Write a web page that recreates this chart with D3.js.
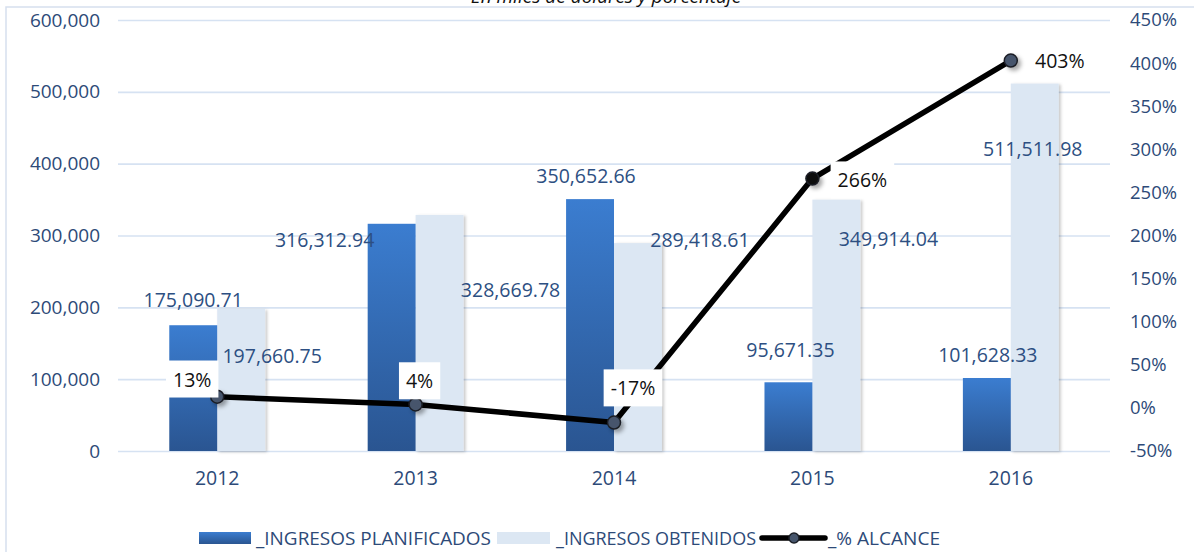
<!DOCTYPE html>
<html>
<head>
<meta charset="utf-8">
<script src="https://cdn.jsdelivr.net/npm/d3@7"></script>
<style>
  body { margin: 0; background: #fff; }
  svg { display: block; }
  text { font-family: "Open Sans", "Noto Sans", sans-serif; }
</style>
</head>
<body>
<svg id="chart" width="1194" height="552"></svg>
<script>
// data
const years = ['2012', '2013', '2014', '2015', '2016'];
const planificados = [175090.71, 316312.94, 350652.66, 95671.35, 101628.33];
const obtenidos = [197660.75, 328669.78, 289418.61, 349914.04, 511511.98];
const alcance = [13, 4, -17, 266, 403];
const leftTicks = [0, 100000, 200000, 300000, 400000, 500000, 600000];
const rightTicks = [-50, 0, 50, 100, 150, 200, 250, 300, 350, 400, 450];
const seriesNames = ['_INGRESOS PLANIFICADOS', '_INGRESOS OBTENIDOS', '_% ALCANCE'];

// label nudges (px) — labels were moved by hand in the original
const planLabelOff = [[0, -25], [-67, 16], [-4, -23], [2, -32], [1, -23]];
const obtLabelOff = [[31, 47], [71, 75], [62, -3], [52, 40], [-2, 66]];
const pctLabelOff = [[-25, -17], [4, -23], [19, -34], [50, 2], [49, 1]];

const svg = d3.select('#chart');
const plotLeft = 118, plotRight = 1110, plotTop = 20, plotBottom = 451;

const defs = svg.append('defs');
const grad = defs.append('linearGradient')
    .attr('id', 'darkGrad').attr('x1', 0).attr('y1', 0).attr('x2', 0).attr('y2', 1);
grad.append('stop').attr('offset', '0%').attr('stop-color', '#3b7dd0');
grad.append('stop').attr('offset', '100%').attr('stop-color', '#2a5591');

const shadow = defs.append('filter').attr('id', 'shadow')
    .attr('x', '-30%').attr('y', '-30%').attr('width', '160%').attr('height', '160%');
shadow.append('feDropShadow').attr('dx', 2).attr('dy', 1).attr('stdDeviation', 1.5)
    .attr('flood-color', '#000').attr('flood-opacity', 0.22);

const mshadow = defs.append('filter').attr('id', 'mshadow')
    .attr('x', '-100%').attr('y', '-100%').attr('width', '300%').attr('height', '300%');
mshadow.append('feDropShadow').attr('dx', 3).attr('dy', 3).attr('stdDeviation', 2)
    .attr('flood-color', '#000').attr('flood-opacity', 0.35);

// outer border
svg.append('path')
    .attr('d', 'M6,552 L6,7 L1194,7')
    .attr('fill', 'none').attr('stroke', '#d6e0ee').attr('stroke-width', 1.5);

// title (cut off at top, as in the original)
svg.append('text')
    .attr('x', 606).attr('y', 3)
    .attr('text-anchor', 'middle')
    .style('font-style', 'italic').style('font-size', '19px')
    .attr('fill', '#111')
    .text('En miles de dólares y porcentaje');

// scales
const x = d3.scaleBand().domain(years).range([plotLeft, plotRight]).padding(0);
const x1 = d3.scaleBand().domain(['plan', 'obt']).range([0, x.bandwidth()])
    .paddingInner(0).paddingOuter(1.07);
const yL = d3.scaleLinear().domain([0, 600000]).range([plotBottom, plotTop]);
const yR = d3.scaleLinear().domain([-50, 450]).range([plotBottom, plotTop]);

// gridlines
svg.append('g')
    .attr('transform', `translate(${plotLeft},0)`)
    .call(d3.axisLeft(yL).tickValues(leftTicks).tickSize(-(plotRight - plotLeft)).tickFormat(''))
    .call(g => g.select('.domain').remove())
    .call(g => g.selectAll('line').attr('stroke', '#d6e2f2').attr('stroke-width', 1.6));

// left axis labels
svg.append('g')
    .attr('transform', `translate(${plotLeft},0)`)
    .call(d3.axisLeft(yL).tickValues(leftTicks).tickSize(0).tickPadding(18)
        .tickFormat(d3.format(',')))
    .call(g => g.select('.domain').remove())
    .call(g => g.selectAll('text').attr('fill', '#2d4a78')
        .style('font-size', '19px').style('font-family', '"Open Sans", sans-serif'));

// right axis labels
svg.append('g')
    .attr('transform', `translate(${plotRight},0)`)
    .call(d3.axisRight(yR).tickValues(rightTicks).tickSize(0).tickPadding(20)
        .tickFormat(d => d + '%'))
    .call(g => g.select('.domain').remove())
    .call(g => g.selectAll('text').attr('fill', '#2d4a78')
        .style('font-size', '18.5px').style('font-family', '"Open Sans", sans-serif'));

// category axis
svg.append('g')
    .attr('transform', `translate(0,${plotBottom})`)
    .call(d3.axisBottom(x).tickSize(0).tickPadding(20))
    .call(g => g.select('.domain').remove())
    .call(g => g.selectAll('text').attr('fill', '#2d4a78')
        .style('font-size', '19.5px').style('font-family', '"Open Sans", sans-serif'));

// bars
const groups = svg.append('g').selectAll('g')
    .data(years)
    .enter()
    .append('g')
    .attr('transform', d => `translate(${x(d)},0)`);

groups.append('rect')
    .attr('x', x1('obt'))
    .attr('width', x1.bandwidth())
    .attr('y', (d, i) => yL(obtenidos[i]))
    .attr('height', (d, i) => yL(0) - yL(obtenidos[i]))
    .attr('fill', '#dce7f3')
    .attr('filter', 'url(#shadow)');

groups.append('rect')
    .attr('x', x1('plan'))
    .attr('width', x1.bandwidth())
    .attr('y', (d, i) => yL(planificados[i]))
    .attr('height', (d, i) => yL(0) - yL(planificados[i]))
    .attr('fill', 'url(#darkGrad)');

// bar value labels
const fmt = d3.format(',.2f');
const valLabels = svg.append('g')
    .style('font-size', '19.5px').attr('fill', '#2d4f82').attr('text-anchor', 'middle');

valLabels.selectAll('.plan')
    .data(years)
    .enter()
    .append('text')
    .attr('class', 'plan')
    .attr('x', (d, i) => x(d) + x1('plan') + x1.bandwidth() / 2 + planLabelOff[i][0])
    .attr('y', (d, i) => yL(planificados[i]) + planLabelOff[i][1])
    .attr('dy', '0.35em')
    .text((d, i) => fmt(planificados[i]));

valLabels.selectAll('.obt')
    .data(years)
    .enter()
    .append('text')
    .attr('class', 'obt')
    .attr('x', (d, i) => x(d) + x1('obt') + x1.bandwidth() / 2 + obtLabelOff[i][0])
    .attr('y', (d, i) => yL(obtenidos[i]) + obtLabelOff[i][1])
    .attr('dy', '0.35em')
    .text((d, i) => fmt(obtenidos[i]));

// line
const cx = d => x(d) + x.bandwidth() / 2;
const line = d3.line()
    .x((d, i) => cx(years[i]))
    .y(d => yR(d));

svg.append('path')
    .datum(alcance)
    .attr('d', line)
    .attr('fill', 'none')
    .attr('stroke', '#000')
    .attr('stroke-width', 5.5)
    .attr('stroke-linejoin', 'round');

svg.append('g').selectAll('circle')
    .data(alcance)
    .enter()
    .append('circle')
    .attr('cx', (d, i) => cx(years[i]))
    .attr('cy', d => yR(d))
    .attr('r', 6.5)
    .attr('fill', (d, i) => i === 3 ? '#111' : '#46556c')
    .attr('stroke', '#1b1f26')
    .attr('stroke-width', 1.5)
    .attr('filter', 'url(#mshadow)');

// percent labels with white boxes
const pctG = svg.append('g').selectAll('g')
    .data(alcance)
    .enter()
    .append('g')
    .attr('transform', (d, i) =>
        `translate(${cx(years[i]) + pctLabelOff[i][0]},${yR(d) + pctLabelOff[i][1]})`);

pctG.append('rect').attr('fill', '#fff');
pctG.append('text')
    .attr('text-anchor', 'middle')
    .attr('dy', '0.35em')
    .style('font-size', '19.5px')
    .attr('fill', '#111')
    .text(d => d + '%');
pctG.each(function () {
    const g = d3.select(this);
    const b = g.select('text').node().getBBox();
    g.select('rect')
        .attr('x', b.x - 7).attr('y', b.y - 5)
        .attr('width', b.width + 14).attr('height', b.height + 10);
});

// legend
const legend = svg.append('g');
const legendText = (xPos, str, w) => legend.append('text')
    .attr('x', xPos).attr('y', 545)
    .attr('textLength', w).attr('lengthAdjust', 'spacingAndGlyphs')
    .style('font-family', '"Liberation Sans Narrow", "Open Sans", sans-serif')
    .style('font-size', '18px')
    .attr('fill', '#2d4a78')
    .text(str);

legend.append('rect').attr('x', 199).attr('y', 532).attr('width', 52).attr('height', 12)
    .attr('fill', 'url(#darkGrad)');
legendText(256, seriesNames[0], 235);
legend.append('rect').attr('x', 497).attr('y', 532).attr('width', 53).attr('height', 12)
    .attr('fill', '#dce7f3');
legendText(556, seriesNames[1], 200);
legend.append('line').attr('x1', 762).attr('x2', 825).attr('y1', 538).attr('y2', 538)
    .attr('stroke', '#000').attr('stroke-width', 5.5).attr('stroke-linecap', 'round');
legend.append('circle').attr('cx', 794).attr('cy', 538).attr('r', 5)
    .attr('fill', '#46556c').attr('stroke', '#1b1f26').attr('stroke-width', 1.5);
legendText(828, seriesNames[2], 112);
</script>
</body>
</html>
